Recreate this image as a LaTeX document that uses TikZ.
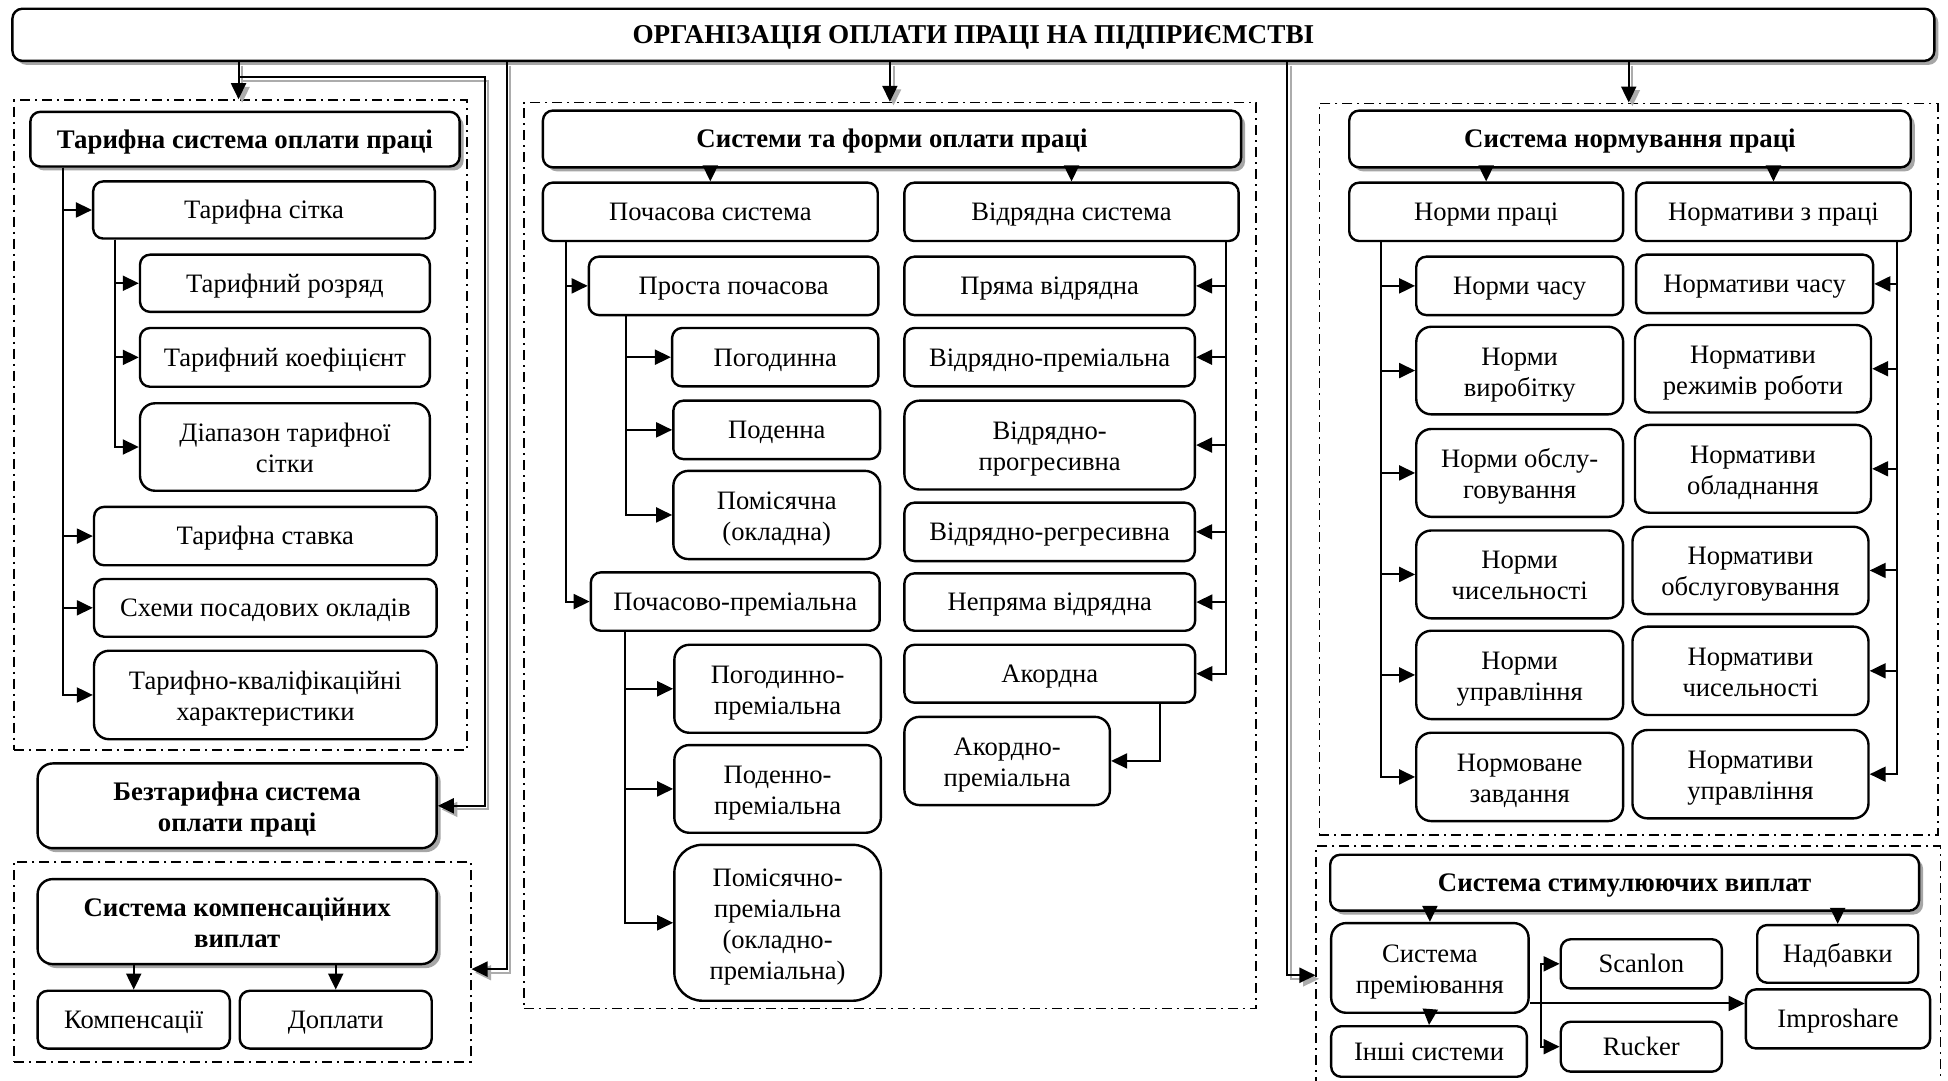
\documentclass[tikz,border=0pt]{standalone}
\usepackage{fontspec}
\setmainfont{Liberation Serif}
\usetikzlibrary{arrows.meta,shadows}

\newlength\pxu
\setlength\pxu{0.6212pt}

\tikzset{
  box/.style={draw, line width=1.2pt, rounded corners=5pt, fill=white, align=center,
    inner sep=0pt, font=\fontsize{13.3}{15.5}\selectfont,
    execute at begin node={\rule{0pt}{12.2pt}},
    execute at end node={\rule[-3.3pt]{0pt}{3.3pt}}},
  tall/.style={rounded corners=7.5pt, execute at begin node={\rule{0pt}{28.8pt}}},
  vtall/.style={rounded corners=14pt, execute at begin node={\rule{0pt}{59.8pt}}},
  hbox/.style={box, font=\fontsize{13.4}{15.5}\selectfont\bfseries,
    general shadow={fill=gray!70, shadow xshift=2pt, shadow yshift=-2pt}},
  frame/.style={draw, fill=none, sharp corners, line width=0.8pt,
    dash pattern=on 5pt off 2.5pt on 1pt off 2.5pt},
  conn/.style={line width=1pt, -{Triangle[length=8pt,width=7.5pt]}},
  dsh/.style={conn, draw=gray!65, transform canvas={xshift=1.8pt,yshift=-1.8pt}},
}

% box by corners: [options]{name}{x1}{y1}{x2}{y2}{text}
\newcommand\bx[7][]{\node[box,#1,minimum width={(#5-#3)*\pxu},minimum height={(#6-#4)*\pxu}]
  (#2) at ({(#3+#5)/2},{(#4+#6)/2}) {#7};}

\begin{document}
\begin{tikzpicture}[x=\pxu,y=-\pxu]
\fill[white] (0,0) rectangle (1568,870);
\useasboundingbox (0,0) rectangle (1568,870);

% dash-dot group frames
\bx[frame]{fr1}{11.3}{80.5}{375.7}{603.7}{}
\bx[frame]{cfr}{11.3}{693.6}{378.9}{854.6}{}
\bx[frame]{mfr}{421.6}{82.6}{1011}{811.6}{}
\bx[frame]{nfr}{1062}{83.2}{1560}{672}{}
\bx[frame]{sfr}{1059.5}{681}{1562}{889}{}

% title
\bx[hbox,font=\fontsize{13.6}{15.5}\selectfont\bfseries]{top}{10}{7}{1557}{49}{ОРГАНІЗАЦІЯ ОПЛАТИ ПРАЦІ НА ПІДПРИЄМСТВІ}

% tariff system
\bx[hbox]{tsys}{24.4}{90}{370}{134}{Тарифна система оплати праці}
\bx{tgrid}{75}{146}{350}{192}{Тарифна сітка}
\bx{trozr}{112.7}{205}{346}{251}{Тарифний розряд}
\bx{tkoef}{112.7}{264}{346}{311.3}{Тарифний коефіцієнт}
\bx[tall]{tdiap}{112.7}{324.6}{346}{395}{Діапазон тарифної\\сітки}
\bx{tstav}{75.7}{408}{351.5}{455}{Тарифна ставка}
\bx{tsxem}{75.7}{466}{351.5}{512.5}{Схеми посадових окладів}
\bx[tall]{tkval}{75.7}{523.8}{351.5}{595}{Тарифно-кваліфікаційні\\характеристики}

\bx[hbox,tall]{bezt}{30.3}{614.5}{351.5}{682.7}{Безтарифна система\\оплати праці}
\bx[hbox,tall]{comp}{30.3}{707.6}{351.5}{776}{Система компенсаційних\\виплат}
\bx{komp}{30.3}{797.5}{185}{844}{Компенсації}
\bx{dopl}{193}{797.5}{347.5}{844}{Доплати}

% systems and forms of pay
\bx[hbox]{sf}{437}{89}{999}{134.7}{Системи та форми оплати праці}
\bx{poch}{437}{147}{706.5}{194}{Почасова система}
\bx{vidr}{728}{147}{997}{194}{Відрядна система}
\bx{prost}{474}{206.6}{707}{253.6}{Проста почасова}
\bx{pogod}{541}{264}{707}{311}{Погодинна}
\bx{poden}{542}{322.5}{708.4}{369.5}{Поденна}
\bx[tall]{pomis}{542}{379}{708.4}{450}{Помісячна\\(окладна)}
\bx{pochpr}{475.6}{460.7}{708}{507.7}{Почасово-преміальна}
\bx[tall]{pogpr}{542.8}{519}{709}{589.8}{Погодинно-\\преміальна}
\bx[tall]{podpr}{542.8}{599.7}{709}{670.3}{Поденно-\\преміальна}
\bx[vtall]{pompr}{542.8}{680}{709}{805.5}{Помісячно-\\преміальна\\(окладно-\\преміальна)}
\bx{pryama}{728}{206.6}{961.8}{253.6}{Пряма відрядна}
\bx{vpr}{728}{264}{961.8}{311}{Відрядно-преміальна}
\bx[tall]{vprog}{728}{322.5}{961.8}{394}{Відрядно-\\прогресивна}
\bx{vreg}{728}{404.6}{961.8}{451.6}{Відрядно-регресивна}
\bx{nepr}{728}{461.5}{962}{507.7}{Непряма відрядна}
\bx{akord}{728}{519}{962}{565.6}{Акордна}
\bx[tall]{akpr}{728}{577}{893.4}{648}{Акордно-\\преміальна}

% labour standards
\bx[hbox]{nsys}{1086}{89}{1538}{134.7}{Система нормування праці}
\bx{npr}{1086}{147}{1306.5}{194}{Норми праці}
\bx{nvz}{1317}{147}{1538}{194}{Нормативи з праці}
\bx{nchas}{1140}{206.6}{1306.5}{253.6}{Норми часу}
\bx{nvchas}{1317}{205}{1507.7}{252}{Нормативи часу}
\bx[tall]{nvyr}{1140}{263}{1306.5}{333.5}{Норми\\виробітку}
\bx[tall]{nvrez}{1316}{261.6}{1506}{332}{Нормативи\\режимів роботи}
\bx[tall]{nobs}{1140}{345.3}{1306.5}{416}{Норми обслу-\\говування}
\bx[tall]{nvobl}{1316}{342}{1506}{412.7}{Нормативи\\обладнання}
\bx[tall]{nchis}{1140}{427}{1306.5}{497.7}{Норми\\чисельності}
\bx[tall]{nvobs}{1314}{424}{1504}{494.3}{Нормативи\\обслуговування}
\bx[tall]{nupr}{1140}{507.7}{1306.5}{578.8}{Норми\\управління}
\bx[tall]{nvchis}{1314}{504.4}{1504}{575.5}{Нормативи\\чисельності}
\bx[tall]{nzav}{1140}{589.8}{1306.5}{660.9}{Нормоване\\завдання}
\bx[tall]{nvupr}{1314}{587.6}{1504}{658.7}{Нормативи\\управління}

% incentive payments
\bx[hbox]{stim}{1070.7}{688}{1544.7}{733}{Система стимулюючих виплат}
\bx[tall]{spr}{1071.5}{743}{1230.4}{815.2}{Система\\преміювання}
\bx{inshi}{1071.5}{826}{1229}{866.7}{Інші системи}
\bx{scan}{1256.3}{756}{1386}{795.6}{Scanlon}
\bx{ruck}{1256.3}{822.4}{1386}{862.6}{Rucker}
\bx{nadb}{1414.4}{744.6}{1544}{791}{Надбавки}
\bx{impr}{1405.3}{796.4}{1553.6}{843.9}{Improshare}

% junction points of the connectors
\coordinate (jt) at (192,62);
\coordinate (jb) at (390,62);
\coordinate (jc) at (408,0);
\coordinate (jd) at (1036,0);
\coordinate (t1) at (50.5,0);
\coordinate (t2) at (92.3,0);
\coordinate (m1) at (455.6,0);
\coordinate (m2) at (504,0);
\coordinate (m3) at (503,0);
\coordinate (m4) at (986.5,0);
\coordinate (m5) at (933.3,0);
\coordinate (r1) at (1111.7,0);
\coordinate (r2) at (1527,0);
\coordinate (jS) at (1240.3,807.7);

% main connectors with grey shadow
\draw[dsh] (top.south -| jt) -- (jt |- fr1.north);
\draw[dsh] (jt) -- (jb) |- (bezt.east);
\draw[dsh] (top.south -| jc) |- ([yshift=-3.7pt]cfr.east);
\draw[dsh] (top.south -| mfr.north) -- (mfr.north);
\draw[dsh] (top.south -| nfr.north) -- (nfr.north);
\draw[dsh] (top.south -| jd) |- (sfr.west);
\draw[conn] (top.south -| jt) -- (jt |- fr1.north);
\draw[conn] (jt) -- (jb) |- (bezt.east);
\draw[conn] (top.south -| jc) |- ([yshift=-3.7pt]cfr.east);
\draw[conn] (top.south -| mfr.north) -- (mfr.north);
\draw[conn] (top.south -| nfr.north) -- (nfr.north);
\draw[conn] (top.south -| jd) |- (sfr.west);

% tariff tree
\foreach \n in {tgrid,tstav,tsxem,tkval} \draw[conn] (tsys.south -| t1) |- (\n.west);
\foreach \n in {trozr,tkoef,tdiap} \draw[conn] (tgrid.south -| t2) |- (\n.west);
\draw[conn] (comp.south -| komp.north) -- (komp.north);
\draw[conn] (comp.south -| dopl.north) -- (dopl.north);

% pay systems tree
\draw[conn] (sf.south -| poch.north) -- (poch.north);
\draw[conn] (sf.south -| vidr.north) -- (vidr.north);
\foreach \n in {prost,pochpr} \draw[conn] (poch.south -| m1) |- (\n.west);
\foreach \n in {pogod,poden,pomis} \draw[conn] (prost.south -| m2) |- (\n.west);
\foreach \n in {pogpr,podpr,pompr} \draw[conn] (pochpr.south -| m3) |- (\n.west);
\foreach \n in {pryama,vpr,vprog,vreg,nepr,akord} \draw[conn] (vidr.south -| m4) |- (\n.east);
\draw[conn] (akord.south -| m5) |- (akpr.east);

% standards tree
\draw[conn] (nsys.south -| npr.north) -- (npr.north);
\draw[conn] (nsys.south -| nvz.north) -- (nvz.north);
\foreach \n in {nchas,nvyr,nobs,nchis,nupr,nzav} \draw[conn] (npr.south -| r1) |- (\n.west);
\foreach \n in {nvchas,nvrez,nvobl,nvobs,nvchis,nvupr} \draw[conn] (nvz.south -| r2) |- (\n.east);

% incentive tree
\draw[conn] (stim.south -| spr.north) -- (spr.north);
\draw[conn] (stim.south -| nadb.north) -- (nadb.north);
\draw[conn] (spr.south) -- (inshi.north);
\draw[conn] (jS -| spr.east) -- (jS -| impr.west);
\draw[conn] (jS) |- (scan.west);
\draw[conn] (jS) |- (ruck.west);
\end{tikzpicture}
\end{document}
